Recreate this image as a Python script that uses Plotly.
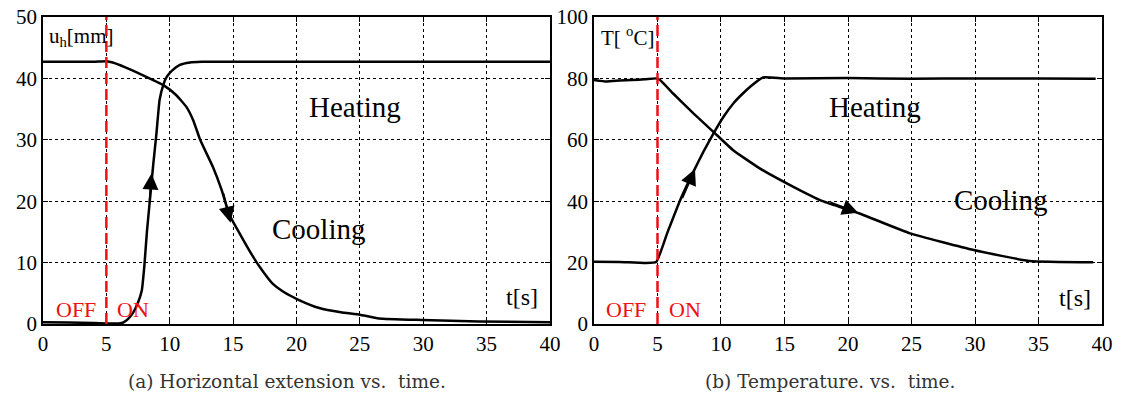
import plotly.graph_objects as go

# ---- data ----
t_heat_a = [0, 2, 4, 5, 5.5, 6, 6.3, 6.7, 7.1, 7.5, 7.8, 8.0, 8.2, 8.45, 8.7, 8.95, 9.2, 9.5, 9.75, 10.2, 10.8, 11.6, 12.5, 20, 30, 40]
u_heat_a = [0.3, 0.25, 0.15, 0.1, 0.1, 0.1, 0.2, 0.8, 1.8, 3.5, 5.5, 9.5, 15, 20.5, 26, 31, 36.5, 39, 40.2, 41.3, 42.2, 42.6, 42.7, 42.7, 42.7, 42.7]

t_cool_a = [0, 2, 4, 5, 5.5, 6.5, 7.9, 9.5, 10.5, 11.3, 11.85, 12.4, 13.4, 14.1, 14.7, 15.5, 16.5, 17.3, 18.1, 19.0, 20.2, 21.8, 23.5, 25, 26.5, 29.9, 34.4, 40]
u_cool_a = [42.7, 42.7, 42.7, 42.8, 42.6, 41.8, 40.5, 38.9, 37.3, 35.4, 33.2, 30, 25.6, 21.8, 17.8, 14.8, 11.2, 8.7, 6.6, 5.2, 3.9, 2.6, 1.9, 1.5, 0.9, 0.65, 0.4, 0.3]

t_heat_b = [0, 2, 4, 4.9, 5.8, 6.8, 7.9, 8.6, 9.4, 10.2, 11.0, 11.7, 12.3, 13.3, 15, 20, 25, 30, 35, 39.5]
T_heat_b = [20.3, 20.2, 19.9, 20.2, 30, 40.5, 50.2, 56, 62, 67.5, 72, 75, 77.3, 80.3, 80, 80.1, 79.9, 80, 80, 79.9]

t_cool_b = [0, 1, 2, 3, 4, 4.9, 5.2, 6.25, 7.83, 9.4, 10.96, 13.05, 15.7, 18, 20.9, 24.9, 29.9, 34.3, 39.3]
T_cool_b = [79.5, 79, 79.3, 79.5, 79.7, 80, 79.5, 75, 68.6, 62.6, 56.6, 50.7, 44.7, 40, 36, 29.5, 24.1, 20.5, 20.1]

x_ticks = [0, 5, 10, 15, 20, 25, 30, 35, 40]
ya_ticks = [0, 10, 20, 30, 40, 50]
yb_ticks = [0, 20, 40, 60, 80, 100]
switch_t = 5

SERIF = "Times New Roman"

fig = go.Figure()
line = dict(color="black", width=2.5, shape="spline", smoothing=0.4)
fig.add_trace(go.Scatter(x=t_heat_a, y=u_heat_a, mode="lines", line=line, xaxis="x", yaxis="y"))
fig.add_trace(go.Scatter(x=t_cool_a, y=u_cool_a, mode="lines", line=line, xaxis="x", yaxis="y"))
fig.add_trace(go.Scatter(x=t_heat_b, y=T_heat_b, mode="lines", line=line, xaxis="x2", yaxis="y2"))
fig.add_trace(go.Scatter(x=t_cool_b, y=T_cool_b, mode="lines", line=line, xaxis="x2", yaxis="y2"))

ax_common = dict(showline=True, linecolor="black", linewidth=1.5, mirror="ticks",
                 ticks="inside", ticklen=5, tickcolor="black", automargin=False,
                 showgrid=True, gridcolor="black", gridwidth=1, griddash="dot",
                 zeroline=False, tickfont=dict(family=SERIF, size=21, color="black"))

fig.update_layout(
    width=1122, height=399, margin=dict(l=0, r=0, t=0, b=0, autoexpand=False),
    font=dict(family=SERIF, size=20, color="black"),
    paper_bgcolor="white", plot_bgcolor="white", showlegend=False,
    xaxis=dict(domain=[0.0383, 0.4902], range=[0, 40], tickvals=x_ticks, anchor="y", **ax_common),
    yaxis=dict(domain=[0.188, 0.9574], range=[0, 50], tickvals=ya_ticks, anchor="x", **ax_common),
    xaxis2=dict(domain=[0.5294, 0.9822], range=[0, 40], tickvals=x_ticks, anchor="y2", **ax_common),
    yaxis2=dict(domain=[0.188, 0.9574], range=[0, 100], tickvals=yb_ticks, anchor="x2", **ax_common),
)

# red switching lines
for xr, yr, ytop in [("x", "y", 50), ("x2", "y2", 100)]:
    fig.add_shape(type="line", xref=xr, yref=yr, x0=switch_t, x1=switch_t, y0=0, y1=ytop,
                  line=dict(color="#ee1111", width=2.5, dash="11px,5px"))

def txt(x, y, s, xr, yr, size, color="black", xanchor="center"):
    fig.add_annotation(x=x, y=y, xref=xr, yref=yr, text=s, showarrow=False,
                       xanchor=xanchor, yanchor="middle",
                       font=dict(family=SERIF, size=size, color=color))

# left panel labels
txt(0.3, 46.8, "u<sub>h</sub>[mm]", "x", "y", 21, xanchor="left")
txt(24.6, 35.3, "Heating", "x", "y", 29)
txt(21.7, 15.5, "Cooling", "x", "y", 29)
txt(37.8, 4.4, "t[s]", "x", "y", 24)
txt(2.6, 2.3, "OFF", "x", "y", 22, color="#ee1111")
txt(7.1, 2.3, "ON", "x", "y", 22, color="#ee1111")

# right panel labels
txt(0.4, 93.5, "T[ <sup>o</sup>C]", "x2", "y2", 21, xanchor="left")
txt(22.1, 70.7, "Heating", "x2", "y2", 29)
txt(32.0, 40.4, "Cooling", "x2", "y2", 29)
txt(37.9, 8.5, "t[s]", "x2", "y2", 24)
txt(2.5, 4.6, "OFF", "x2", "y2", 22, color="#ee1111")
txt(7.2, 4.6, "ON", "x2", "y2", 22, color="#ee1111")

# arrows along curves
def arrow(x, y, ax, ay, xr, yr):
    fig.add_annotation(x=x, y=y, ax=ax, ay=ay, xref=xr, yref=yr, axref=xr, ayref=yr,
                       text="", showarrow=True, arrowhead=2, arrowsize=1.6,
                       arrowwidth=2, arrowcolor="black")

arrow(8.56, 24.5, 8.4, 19.5, "x", "y")
arrow(14.8, 16.5, 14.2, 21.5, "x", "y")
arrow(7.95, 50.5, 6.9, 40.5, "x2", "y2")
arrow(20.8, 36.2, 18.5, 39.8, "x2", "y2")

# captions
for xc, s in [(0.2555, "(a) Horizontal extension vs.  time."), (0.7398, "(b) Temperature. vs.  time.")]:
    fig.add_annotation(x=xc, y=1 - 381 / 399, xref="paper", yref="paper", text=s,
                       showarrow=False, xanchor="center", yanchor="middle",
                       font=dict(family="DejaVu Serif", size=18.5, color="#333333"))

fig.write_html("out.html")
